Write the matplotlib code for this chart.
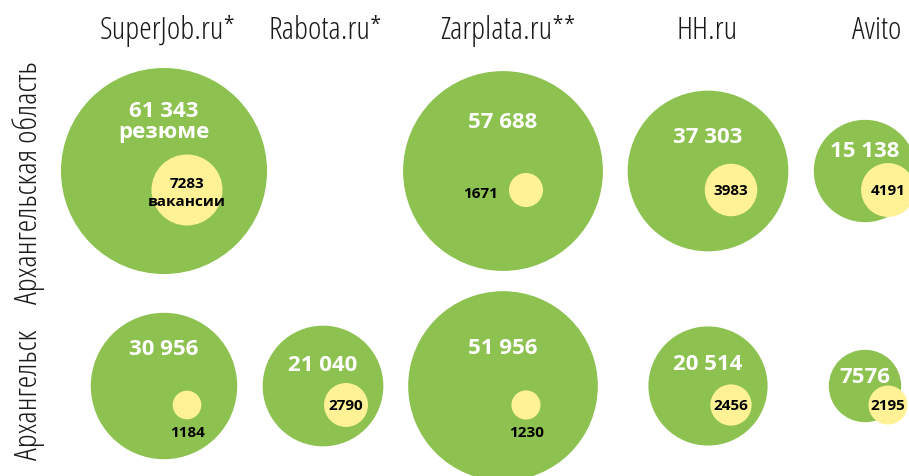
import matplotlib
matplotlib.use("Agg")
import numpy as np
import matplotlib.pyplot as plt
from matplotlib.patches import Circle
from matplotlib import font_manager as fm

# данные: резюме (зелёные круги) и вакансии (жёлтые круги)
sites = ['SuperJob.ru*', 'Rabota.ru*', 'Zarplata.ru**', 'HH.ru', 'Avito']
regions = ['Архангельская область', 'Архангельск']
resumes_oblast = [61343, None, 57688, 37303, 15138]
vacancies_oblast = [7283, None, 1671, 3983, 4191]
resumes_city = [30956, 21040, 51956, 20514, 7576]
vacancies_city = [1184, 2790, 1230, 2456, 2195]

# раскладка (в пикселях картинки)
col_x = [164, 323, 503, 708, 865]
row_y = [172, 387]
title_x = [168, 325, 508, 707, 877]
row_label_y = [183, 395]
k = 0.416  # радиус = k * sqrt(значение)
dx, dy = 23, 19  # смещение жёлтого круга
label_off = [[50, None, 50, 34, 20], [37, 21, 38, 22, 9]]
vac_label = [['two', None, 'left', 'in', 'in'],
             ['below', 'in', 'below', 'in', 'in']]

green = '#8dc150'
yellow = '#fff196'


def wnum(w):
    if isinstance(w, str):
        return fm.weight_dict.get(w, 400)
    return w


# ищем самый тонкий узкий шрифт для заголовков
cands = [f for f in fm.fontManager.ttflist
         if 'Condensed' in f.name or 'Narrow' in f.name
         or f.stretch in ('condensed', 'semi-condensed', 'extra-condensed')]
cands.sort(key=lambda f: (0 if 'Open Sans' in f.name else 1, wnum(f.weight)))
if cands:
    title_fp = fm.FontProperties(fname=cands[0].fname, size=23)
else:
    title_fp = fm.FontProperties(family='DejaVu Sans', size=17)
names = {f.name for f in fm.fontManager.ttflist}
num_font = 'Open Sans' if 'Open Sans' in names else 'DejaVu Sans'


def fmt(v):
    if v >= 10000:
        return f"{v:,}".replace(',', ' ')
    return str(v)


fig = plt.figure(figsize=(9.09, 4.77), dpi=100)
ax = fig.add_axes([0, 0, 1, 1])
ax.set_xlim(0, 909)
ax.set_ylim(477, 0)
ax.set_aspect('equal')
ax.axis('off')

rows = [(resumes_oblast, vacancies_oblast), (resumes_city, vacancies_city)]
for i, (res, vac) in enumerate(rows):
    for j in range(len(sites)):
        if res[j] is None:
            continue
        cx, cy = col_x[j], row_y[i]
        rg = k * np.sqrt(res[j])
        ax.add_patch(Circle((cx, cy), rg, color=green, lw=0))
        # подпись резюме
        txt = fmt(res[j])
        if vac_label[i][j] == 'two':
            txt += '\nрезюме'
        ax.text(cx, cy - label_off[i][j], txt, color='white', fontsize=16, fontweight='bold',
                family=num_font, ha='center', va='center', linespacing=1.0)
        # вакансии
        yx, yy = cx + dx, cy + dy
        ry = k * np.sqrt(vac[j])
        ax.add_patch(Circle((yx, yy), ry, color=yellow, lw=0))
        pos = vac_label[i][j]
        vt = fmt(vac[j])
        if pos == 'two':
            ax.text(yx, yy + 2, vt + '\nвакансии', fontsize=11, fontweight='bold',
                    family=num_font, ha='center', va='center', linespacing=1.3)
        elif pos == 'in':
            ax.text(yx, yy, vt, fontsize=11, fontweight='bold',
                    family=num_font, ha='center', va='center')
        elif pos == 'below':
            ax.text(yx + 1, yy + 27, vt, fontsize=11, fontweight='bold',
                    family=num_font, ha='center', va='center')
        elif pos == 'left':
            ax.text(yx - 45, yy + 3, vt, fontsize=11, fontweight='bold',
                    family=num_font, ha='center', va='center')

for j, s in enumerate(sites):
    ax.text(title_x[j], 31, s, fontproperties=title_fp, color='#1a1a1a',
            ha='center', va='center')

for i, r in enumerate(regions):
    ax.text(29, row_label_y[i], r, fontproperties=title_fp, color='#1a1a1a',
            ha='center', va='center', rotation=90)

fig.savefig('out.png', dpi=100)
